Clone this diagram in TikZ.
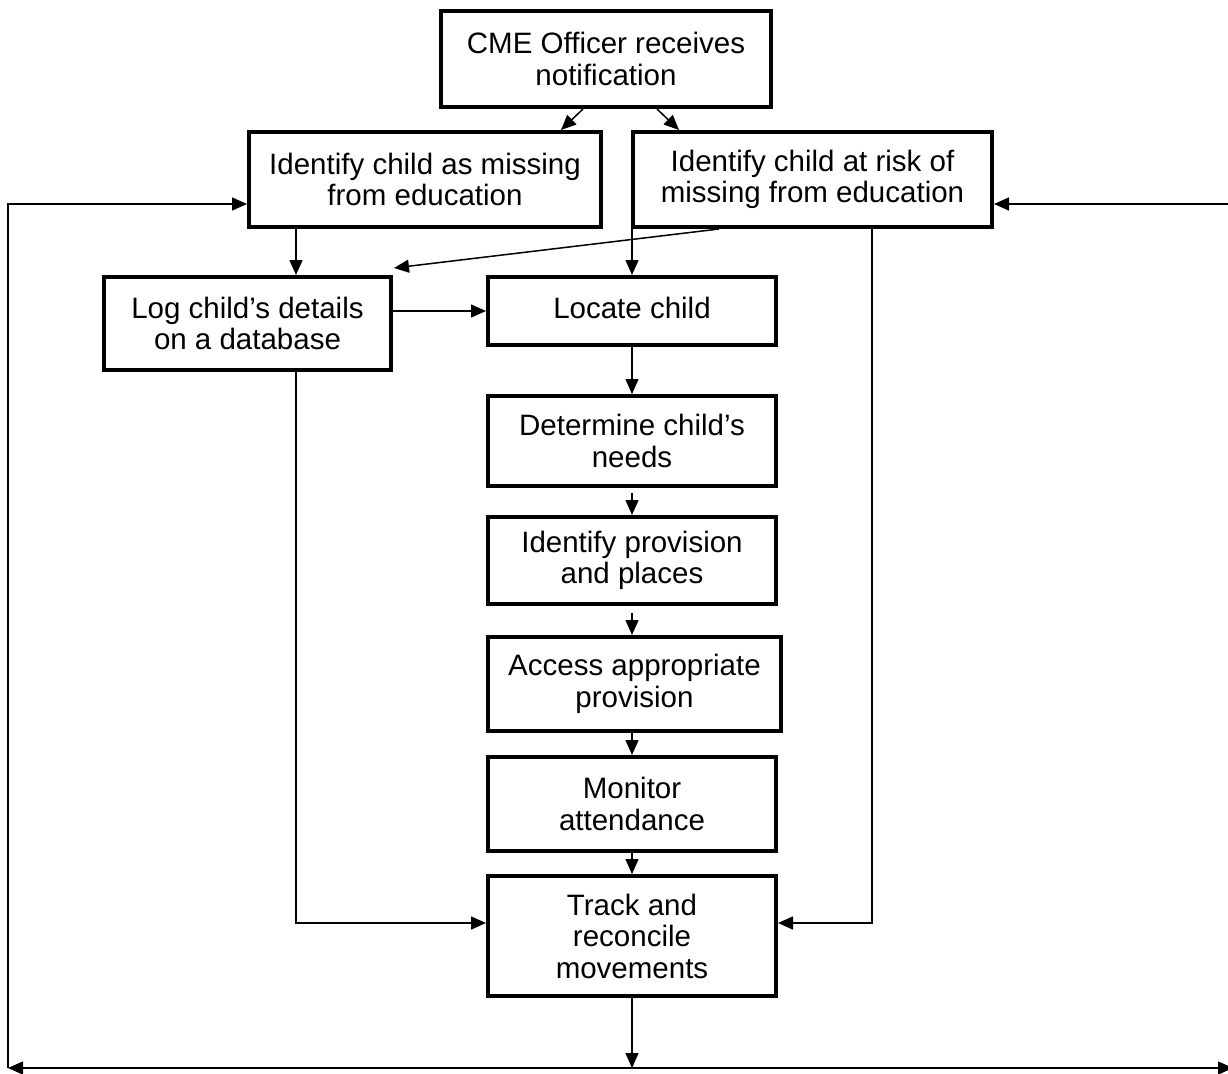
\documentclass[tikz,border=0pt]{standalone}
\usepackage{fontspec}
\setmainfont{Liberation Sans}
\usetikzlibrary{arrows.meta,calc}
\begin{document}
\begin{tikzpicture}[x=1pt,y=-1pt,
  box/.style={draw,line width=4pt,rectangle,inner sep=0pt,align=center,
    font=\fontsize{29.5}{31.5}\selectfont},
  arr/.style={line width=1.5pt,-{Triangle[length=15pt,width=13pt]}},
  ln/.style={line width=1.5pt}]
\useasboundingbox (0,0) rectangle (1228,1073);
\clip (0,0) rectangle (1228,1073);
\fill[white] (0,0) rectangle (1228,1073);
\node[box,minimum width=330pt,minimum height=96pt] (cme) at (606,59) {CME Officer receives\\notification};
\node[box,minimum width=352pt,minimum height=95pt] (miss) at (425,179.5) {Identify child as missing\\from education};
\node[box,minimum width=359pt,minimum height=95pt] (risk) at (812.5,179.5) {Identify child at risk of\\missing from education};
\node[box,minimum width=287pt,minimum height=93pt] (log) at (247.5,323.5) {Log child’s details\\on a database};
\node[box,minimum width=288pt,minimum height=68pt] (loc) at (632,311) {\raisebox{6pt}{Locate child}};
\node[box,minimum width=288pt,minimum height=90pt] (det) at (632,441) {Determine child’s\\needs};
\node[box,minimum width=288pt,minimum height=87pt] (prov) at (632,560.5) {Identify provision\\and places};
\node[box,minimum width=293pt,minimum height=94pt] (acc) at (634.5,684) {Access appropriate\\provision};
\node[box,minimum width=288pt,minimum height=94pt] (mon) at (632,804) {Monitor\\attendance};
\node[box,minimum width=288pt,minimum height=120pt] (trk) at (632,936) {Track and\\reconcile\\movements};
\coordinate (xl) at (296,0);
\coordinate (xr) at (872,0);
\coordinate (jy) at (0,923);
\coordinate (by) at (0,1068);
\coordinate (ty) at (0,204);
\coordinate (lft) at (8,0);
\coordinate (rgt) at (1233,0);
\draw[arr] ($(cme.south)+(-23,0)$) -- ($(miss.north)+(136,0)$);
\draw[arr] ($(cme.south)+(51,0)$) -- ($(risk.north)+(-133.5,0)$);
\draw[arr] (xl |- miss.south) -- (xl |- log.north);
\draw[arr] ($(risk.south)+(-93.5,0)$) -- ($(log.north east)+(1,-7)$);
\draw[arr] (loc.north |- risk.south) -- (loc.north);
\draw[arr] (log.east |- loc.west) -- (loc.west);
\draw[arr] (loc.south) -- (det.north);
\draw[arr] ($(det.south)+(0,5)$) -- (prov.north);
\draw[arr] ($(prov.south)+(0,7)$) -- (acc.north -| prov.north);
\draw[arr] (mon.north |- acc.south) -- (mon.north);
\draw[arr] (mon.south) -- (trk.north);
\draw[arr] (xl |- log.south) -- (xl |- jy) -- (trk.west |- jy);
\draw[arr] (xr |- risk.south) -- (xr |- jy) -- (trk.east |- jy);
\draw[arr] (trk.south) -- (trk.south |- by);
\draw[line width=1.5pt,{Triangle[length=15pt,width=13pt]}-{Triangle[length=15pt,width=13pt]}] (lft |- by) -- (rgt |- by);
\draw[arr] (lft |- by) -- (lft |- ty) -- (miss.west |- ty);
\draw[arr] (rgt |- ty) -- (risk.east |- ty);
\end{tikzpicture}
\end{document}
